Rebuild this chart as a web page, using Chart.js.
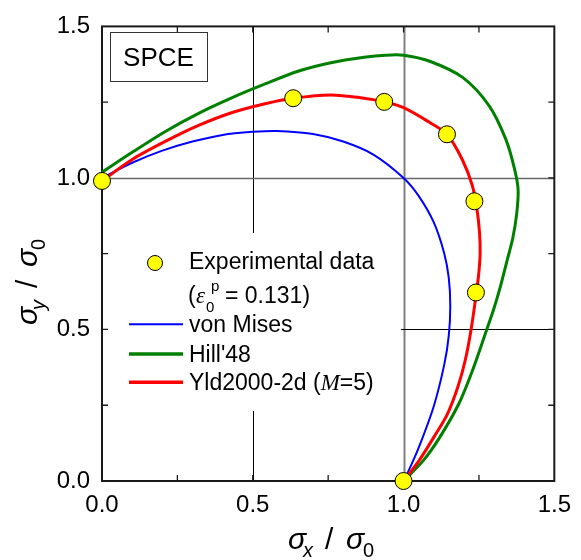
<!DOCTYPE html>
<html><head><meta charset="utf-8">
<script src="https://cdn.jsdelivr.net/npm/chart.js@4.4.0/dist/chart.umd.min.js"></script>
<style>html,body{margin:0;padding:0;background:#fff;} #wrap{width:581px;height:560px;position:relative;}</style>
</head><body><div id="wrap"><canvas id="c"></canvas></div>
<script>
const SANS = "'Liberation Sans', Arial, sans-serif";
const SERIF = "'Liberation Serif', 'Times New Roman', serif";

// ---- data ----
const seriesNames = ['Experimental data', 'von Mises', "Hill'48", 'Yld2000-2d ('];
const expX = [0, 0.634, 0.936, 1.144, 1.235, 1.240, 1.0];
const expY = [0.99, 1.263, 1.251, 1.144, 0.923, 0.622, 0.0];

const misesX = [0, 0.1, 0.2, 0.3, 0.4, 0.5, 0.58, 0.7, 0.8, 0.9, 1.0, 1.05, 1.1, 1.135, 1.15, 1.155, 1.15, 1.135, 1.1, 1.05, 1.02, 1.0];
const misesY = [1.0, 1.05, 1.09, 1.12, 1.142, 1.152, 1.155, 1.145, 1.12, 1.077, 1.0, 0.941, 0.854, 0.751, 0.67, 0.577, 0.48, 0.384, 0.246, 0.109, 0.041, 0.0];

const hillX = [0, 0.104, 0.213, 0.322, 0.432, 0.541, 0.650, 0.759, 0.869, 0.940, 1.0, 1.087, 1.197, 1.284, 1.339, 1.368, 1.380, 1.375, 1.362, 1.344, 1.322, 1.300, 1.276, 1.228, 1.183, 1.120, 1.066, 1.0];
const hillY = [1.019, 1.087, 1.155, 1.214, 1.265, 1.310, 1.352, 1.380, 1.398, 1.405, 1.405, 1.385, 1.331, 1.238, 1.128, 1.03, 0.96, 0.88, 0.80, 0.73, 0.645, 0.57, 0.5, 0.363, 0.254, 0.144, 0.068, 0.0];

const yldX = [0, 0.104, 0.213, 0.322, 0.432, 0.541, 0.634, 0.759, 0.869, 0.936, 1.0, 1.087, 1.144, 1.195, 1.228, 1.243, 1.252, 1.254, 1.249, 1.240, 1.224, 1.205, 1.180, 1.145, 1.100, 1.052, 1.0];
const yldY = [0.99, 1.063, 1.122, 1.174, 1.216, 1.245, 1.263, 1.274, 1.263, 1.251, 1.232, 1.183, 1.144, 1.06, 0.975, 0.90, 0.82, 0.75, 0.68, 0.61, 0.5, 0.40, 0.31, 0.22, 0.144, 0.068, 0.0];

const axisMin = 0, axisMax = 1.5, labelStep = 0.5, minorStep = 0.25;
const crossX = [0.5, 1.0];
const crossY = [0.5, 1.0];
const annotationText = 'SPCE';
const strainText = '= 0.131)';
const yldParamName = 'M';
const yldParamText = '=5)';

function pts(xs, ys) { return xs.map((x, i) => ({ x: x, y: ys[i] })); }

function drawParts(ctx, parts, x0, y0) {
  parts.forEach(p => {
    ctx.font = p.font;
    ctx.fillText(p.t, x0 + p.dx, y0 + p.dy);
  });
}

const decor = {
  id: 'decor',
  beforeDatasetsDraw(chart) {
    const { ctx, chartArea: a, scales: { x, y } } = chart;
    ctx.save();
    // cross lines
    crossX.forEach(v => {
      const px = Math.round(x.getPixelForValue(v)) + 0.5;
      ctx.beginPath();
      ctx.strokeStyle = v === 1 ? '#808080' : '#000';
      ctx.lineWidth = v === 1 ? 2 : 1;
      ctx.moveTo(px, a.top); ctx.lineTo(px, a.bottom); ctx.stroke();
    });
    crossY.forEach(v => {
      const py = Math.round(y.getPixelForValue(v)) + 0.5;
      ctx.beginPath();
      ctx.strokeStyle = v === 1 ? '#686868' : '#000';
      ctx.lineWidth = v === 1 ? 1.6 : 1;
      ctx.moveTo(a.left, py); ctx.lineTo(a.right, py); ctx.stroke();
    });
    // legend background
    ctx.fillStyle = '#fff';
    ctx.fillRect(a.left + 1, 233, 401 - a.left - 1, 411 - 233);

    // frame
    ctx.strokeStyle = '#1a1a1a';
    ctx.lineWidth = 2;
    ctx.strokeRect(a.left, a.top, a.right - a.left, a.bottom - a.top);
    // inward ticks
    ctx.lineWidth = 1.3;
    for (let v = axisMin + minorStep; v < axisMax - 1e-9; v += minorStep) {
      const px = x.getPixelForValue(v), py = y.getPixelForValue(v);
      ctx.beginPath();
      ctx.moveTo(px, a.bottom); ctx.lineTo(px, a.bottom - 6);
      ctx.moveTo(px, a.top); ctx.lineTo(px, a.top + 6);
      ctx.moveTo(a.left, py); ctx.lineTo(a.left + 6, py);
      ctx.moveTo(a.right, py); ctx.lineTo(a.right - 6, py);
      ctx.stroke();
    }

    // SPCE box
    ctx.lineWidth = 1;
    ctx.strokeStyle = '#333';
    ctx.strokeRect(110.5, 32.5, 97, 49);
    ctx.fillStyle = '#000';
    ctx.font = '26px ' + SANS;
    ctx.textAlign = 'center';
    ctx.textBaseline = 'alphabetic';
    ctx.fillText(annotationText, 158.5, 66);

    // legend
    const ds = chart.data.datasets;
    ctx.textAlign = 'left';
    const exp = ds[0];
    ctx.beginPath();
    ctx.arc(155, 263, 7.5, 0, Math.PI * 2);
    ctx.fillStyle = exp.pointBackgroundColor; ctx.fill();
    ctx.lineWidth = 1; ctx.strokeStyle = exp.pointBorderColor; ctx.stroke();
    ctx.fillStyle = '#000';
    ctx.font = '23px ' + SANS;
    ctx.fillText(seriesNames[0], 189, 269);
    // (eps0^p = 0.131)
    drawParts(ctx, [
      { t: '(', font: '23px ' + SANS, dx: 0, dy: 0 },
      { t: 'ε', font: 'italic 23px ' + SERIF, dx: 8, dy: 0 },
      { t: '0', font: '15px ' + SANS, dx: 18, dy: 9 },
      { t: 'p', font: '15px ' + SANS, dx: 23, dy: -12 },
      { t: strainText, font: '23px ' + SANS, dx: 37, dy: 0 }
    ], 188, 303);

    const lineItems = [
      { d: ds[3], y: 324.3, name: seriesNames[1] },
      { d: ds[2], y: 354, name: seriesNames[2] },
      { d: ds[1], y: 382.3, name: seriesNames[3] }
    ];
    lineItems.forEach(it => {
      ctx.beginPath();
      ctx.strokeStyle = it.d.borderColor;
      ctx.lineWidth = it.d.borderWidth + (it.d.borderWidth > 2 ? 0.5 : 0);
      ctx.moveTo(129, it.y); ctx.lineTo(183, it.y); ctx.stroke();
      ctx.fillStyle = '#000';
      ctx.font = '23px ' + SANS;
      ctx.fillText(it.name, 189, it.y + 8);
      if (it.d === ds[1]) {
        let xx = 189 + ctx.measureText(it.name).width;
        ctx.font = 'italic 23px ' + SERIF;
        ctx.fillText(yldParamName, xx, it.y + 8);
        xx += ctx.measureText(yldParamName).width;
        ctx.font = '23px ' + SANS;
        ctx.fillText(yldParamText, xx, it.y + 8);
      }
    });
    ctx.restore();
  },
  afterDraw(chart) {
    const { ctx } = chart;
    ctx.save();
    ctx.fillStyle = '#000';
    ctx.textAlign = 'left';
    ctx.textBaseline = 'alphabetic';
    const big = '30px ' + SANS, bigI = 'italic 30px ' + SANS, sm = '20px ' + SANS, smI = 'italic 20px ' + SANS;
    drawParts(ctx, [
      { t: 'σ', font: bigI, dx: 0, dy: 0 },
      { t: 'x', font: smI, dx: 15, dy: 8 },
      { t: '/', font: big, dx: 37, dy: 0 },
      { t: 'σ', font: bigI, dx: 58, dy: 0 },
      { t: '0', font: sm, dx: 75, dy: 8 }
    ], 288, 549);
    ctx.translate(37, 325);
    ctx.rotate(-Math.PI / 2);
    drawParts(ctx, [
      { t: 'σ', font: bigI, dx: 0, dy: 0 },
      { t: 'y', font: smI, dx: 15, dy: 8 },
      { t: '/', font: big, dx: 37, dy: 0 },
      { t: 'σ', font: bigI, dx: 58, dy: 0 },
      { t: '0', font: sm, dx: 75, dy: 8 }
    ], 0, 0);
    ctx.restore();
  }
};

const tickFont = { family: SANS, size: 24 };
new Chart(document.getElementById('c'), {
  type: 'scatter',
  data: {
    datasets: [
      { label: seriesNames[0], data: pts(expX, expY), showLine: false, pointRadius: 8.5, pointHoverRadius: 8.5,
        pointBackgroundColor: '#ffff00', pointBorderColor: '#000', pointBorderWidth: 1, clip: false },
      { label: seriesNames[3], data: pts(yldX, yldY), showLine: true, pointRadius: 0, borderColor: '#ff0000',
        borderWidth: 3, tension: 0.3, fill: false, clip: false },
      { label: seriesNames[2], data: pts(hillX, hillY), showLine: true, pointRadius: 0, borderColor: '#008000',
        borderWidth: 3, tension: 0.3, fill: false, clip: false },
      { label: seriesNames[1], data: pts(misesX, misesY), showLine: true, pointRadius: 0, borderColor: '#0000ff',
        borderWidth: 2, tension: 0.3, fill: false, clip: false }
    ]
  },
  options: {
    responsive: true,
    maintainAspectRatio: false,
    animation: false,
    events: [],
    layout: { padding: { top: 23, right: 22, left: 0, bottom: 0 } },
    plugins: { legend: { display: false }, tooltip: { enabled: false } },
    scales: {
      x: {
        type: 'linear', min: axisMin, max: axisMax,
        grid: { display: false, drawTicks: false },
        border: { display: false },
        ticks: { stepSize: labelStep, font: tickFont, color: '#000', padding: 10, maxRotation: 0,
                 callback: v => Number(v).toFixed(1) },
        afterFit: s => { s.height = 79; }
      },
      y: {
        type: 'linear', min: axisMin, max: axisMax,
        grid: { display: false, drawTicks: false },
        border: { display: false },
        ticks: { stepSize: labelStep, font: tickFont, color: '#000', padding: 12,
                 callback: v => Number(v).toFixed(1) },
        afterFit: s => { s.width = 102; }
      }
    }
  },
  plugins: [decor]
});
</script></body></html>
